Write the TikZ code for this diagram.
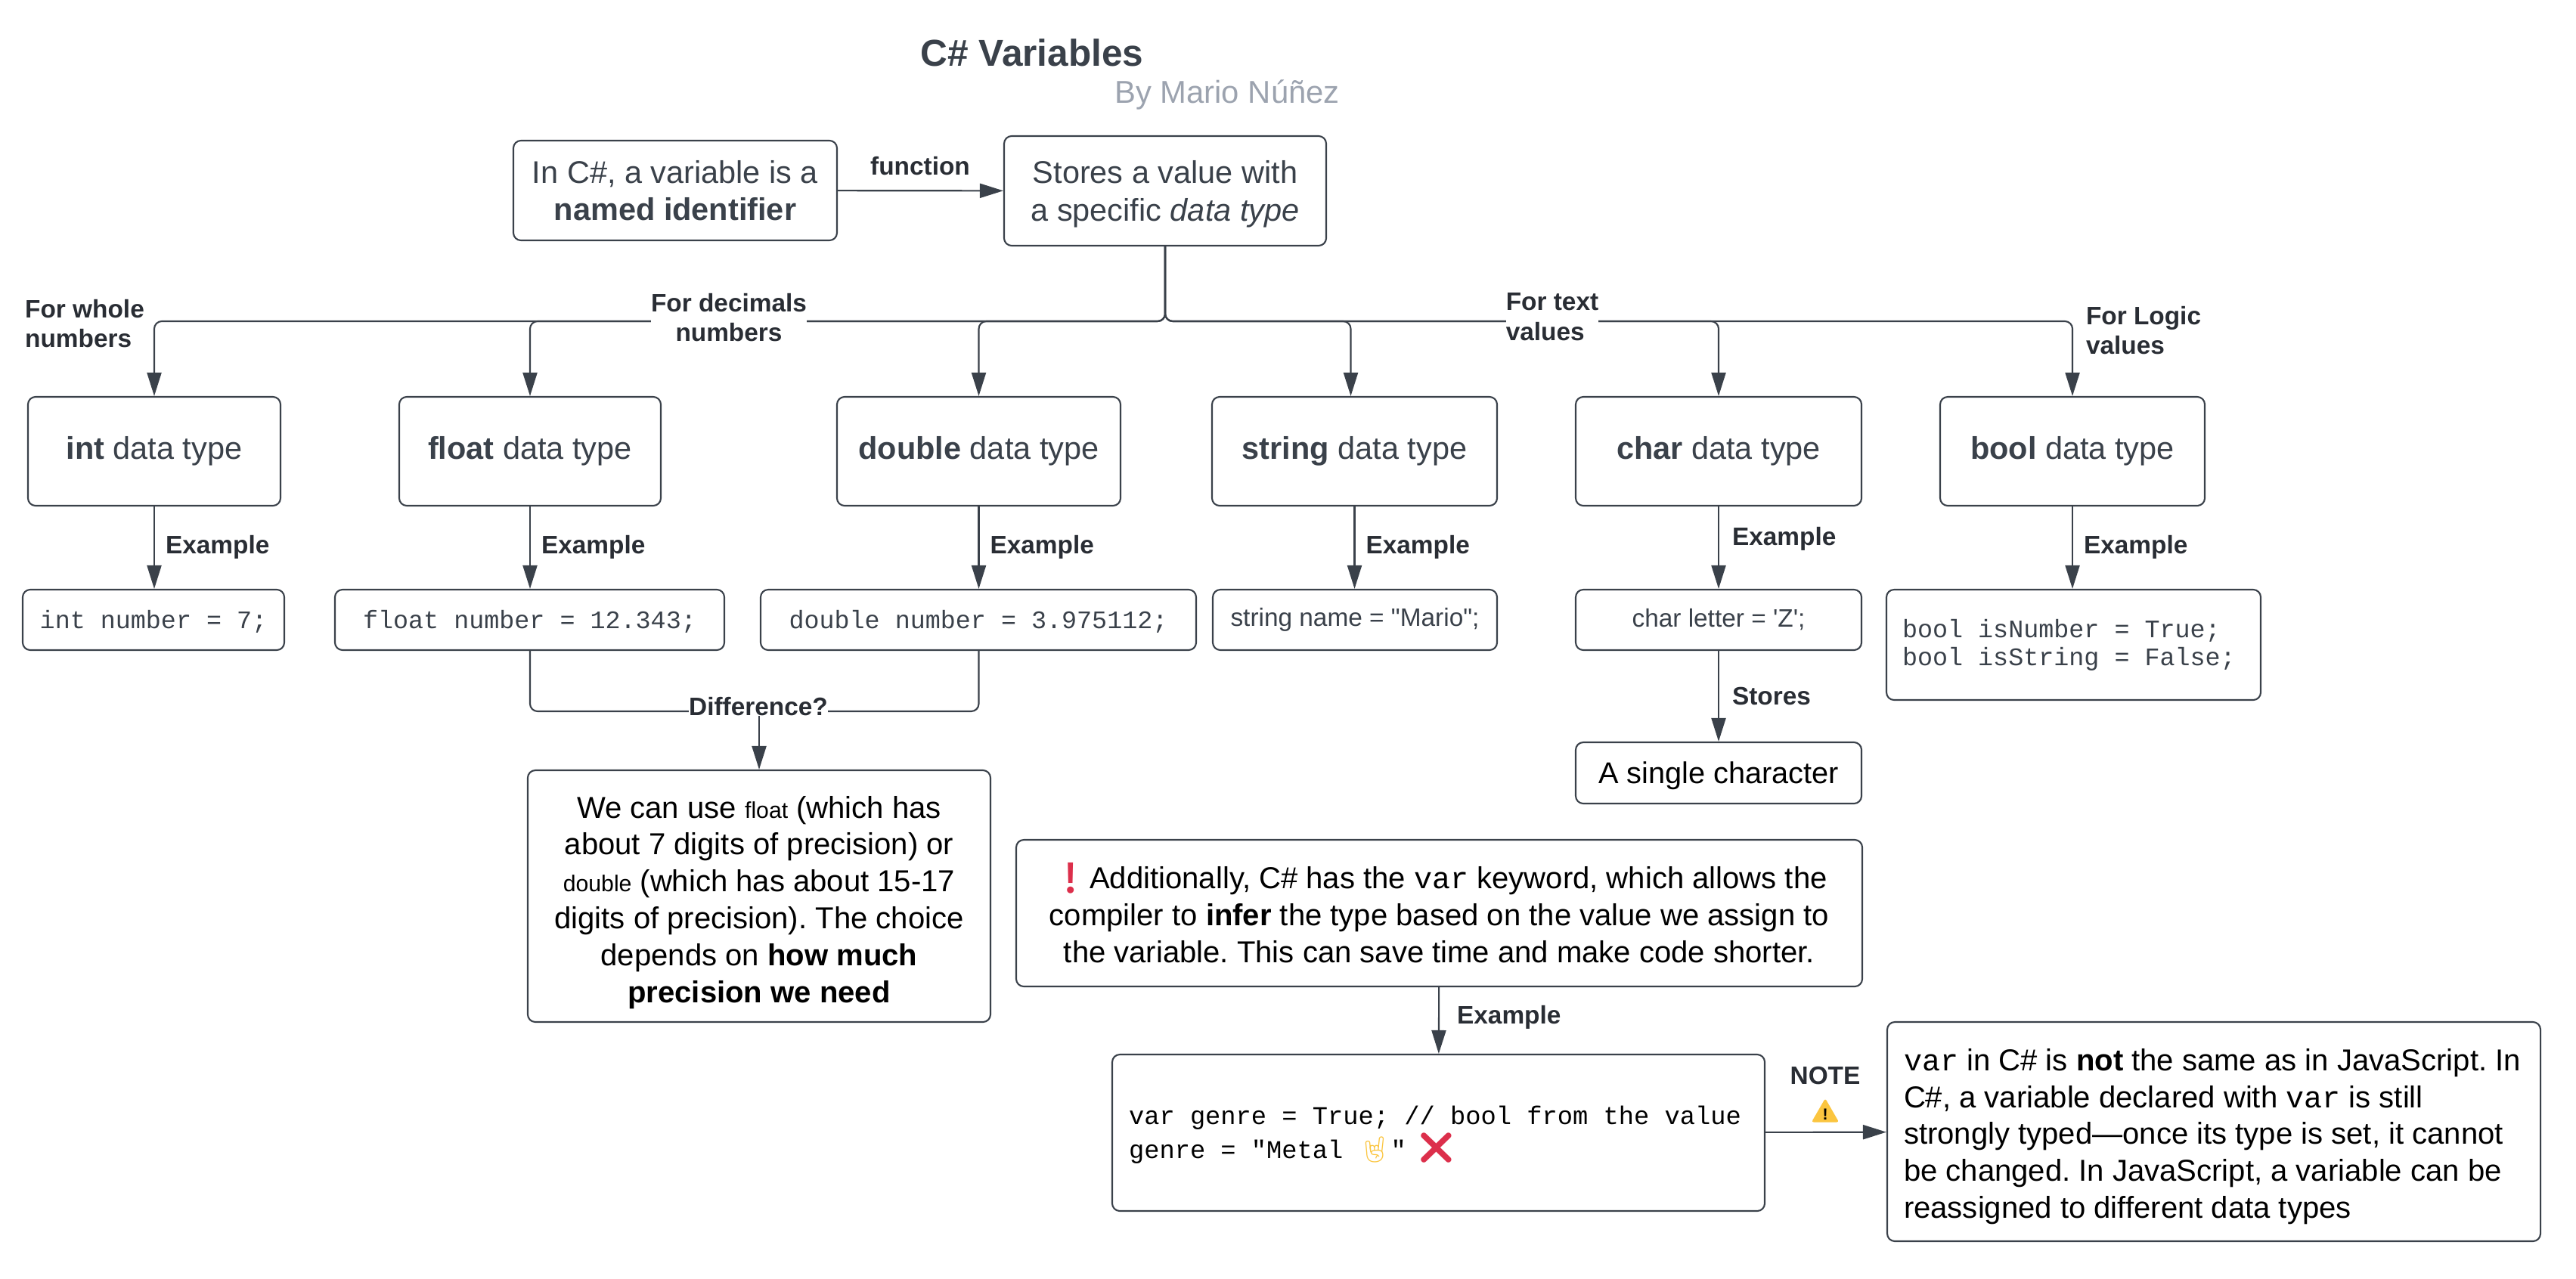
\documentclass[tikz,border=0pt]{standalone}
\usepackage{fontspec}
\setmainfont{Liberation Sans}[Ligatures=TeXOff]
\setmonofont{Liberation Mono}
\newfontfamily\emojifont{Noto Emoji}
\usetikzlibrary{arrows.meta,shapes.geometric}

\definecolor{slate}{HTML}{3A414A}
\definecolor{bylinegray}{HTML}{9CA3AF}
\definecolor{alertred}{HTML}{DC2F4B}
\definecolor{warnyellow}{HTML}{FBC53F}

\tikzset{
	box/.style={draw=slate, line width=0.6pt, rounded corners=0.1cm, fill=white, align=flush center, inner sep=0pt,
		text=slate, font=\fontsize{11.8}{14.1}\selectfont},
	blackbox/.style={box, text=black, font=\fontsize{11.4}{13.9}\selectfont\frenchspacing},
	codebox/.style={box, font=\fontsize{9.5}{10.5}\selectfont\ttfamily},
	linecode/.style={codebox, text height=8.2pt},
	plainbox/.style={box, font=\fontsize{9.5}{11}\selectfont},
	link/.style={draw=slate, line width=0.6pt, rounded corners=0.1cm, -{Triangle[length=0.31cm, width=0.19cm]}},
	tag/.style={font=\fontsize{9.5}{11.3}\selectfont\bfseries, text=slate!70!black, inner sep=0pt, align=flush left},
	warnsign/.style={regular polygon, regular polygon sides=3, fill=warnyellow, rounded corners=0.03cm, inner sep=0pt,
		minimum size=0.42cm, font=\fontsize{6}{6}\selectfont\bfseries, text=black},
}

\begin{document}
\begin{tikzpicture}
	\useasboundingbox (0,0) rectangle (34.07,-16.91);
	\def\typeY{-5.97} % Row of the data types
	\def\sampleY{-8.2} % Row of the samples

	% Title
	\node[font=\fontsize{14.1}{16}\selectfont\bfseries, text=slate, inner sep=0pt] (title) at (13.65,-0.70) {C\# Variables};
	\node[font=\fontsize{11.9}{14}\selectfont, text=bylinegray, inner sep=0pt] (byline) at (16.23,-1.25) {By Mario Núñez};

	% Top boxes
	\node[box, minimum width=4.28cm, minimum height=1.32cm] (identifier) at (8.93,-2.52) {In C\#, a variable is a\\\textbf{named identifier}};
	\node[box, minimum width=4.26cm, minimum height=1.45cm] (stores) at (15.41,-2.525) {\rule{0pt}{11pt}Stores a value with\\a specific \textit{data type}};
	\draw[link] (identifier) -- (stores);
	\node[tag] (function) at (12.17,-2.2) {function};

	% Data types and their samples
	\foreach \nm/\xc/\boxW in {int/2.04/3.34, float/7.01/3.46, double/12.945/3.75, string/17.915/3.77, char/22.73/3.78, bool/27.41/3.50} {
		\node[box, minimum width=\boxW cm, minimum height=1.44cm] (\nm) at (\xc,\typeY) {\textbf{\nm} data type};
	}
	\node[linecode, minimum width=3.46cm, minimum height=0.8cm] (intcode) at (2.03,\sampleY) {int number = 7;};
	\node[linecode, minimum width=5.15cm, minimum height=0.8cm] (floatcode) at (7.005,\sampleY) {float number = 12.343;};
	\node[linecode, minimum width=5.76cm, minimum height=0.8cm] (doublecode) at (12.94,\sampleY) {double number = 3.975112;};
	\node[plainbox, minimum width=3.76cm, minimum height=0.8cm] (stringcode) at (17.92,\sampleY) {string name = "Mario";};
	\node[plainbox, minimum width=3.78cm, minimum height=0.8cm] (charcode) at (22.73,\sampleY) {char letter = 'Z';};
	\node[codebox, text width=4.53cm, inner xsep=0.21cm, minimum height=1.46cm, align=flush left] (boolcode) at (27.425,-8.53) {bool isNumber = True;\\bool isString = False;};
	\node[blackbox, font=\fontsize{11.3}{13}\selectfont, text height=10.5pt, minimum width=3.78cm, minimum height=0.81cm] (single) at (22.73,-10.225) {A single character};

	% Lines from the top box to the data types
	\coordinate (bus) at (15.41,-4.25);
	\foreach \nm in {int, float, double, char, bool} {
		\draw[link] (stores.south) -- (bus) -| (\nm.north);
	}
	\draw[link] (stores.south) -- (bus) -| ([xshift=-0.05cm]string.north);
	\node[tag] (whole) at (1.12,-4.28) {For whole\\numbers};
	\node[tag, fill=white, align=flush center] (decimals) at (9.64,-4.2) {For decimals\\numbers};
	\node[tag, fill=white] (textvalues) at (20.53,-4.19) {For text\\values};
	\node[tag] (logic) at (28.35,-4.37) {For Logic\\values};

	% Samples
	\foreach \nm/\smp in {int/intcode, float/floatcode, double/doublecode, string/stringcode, bool/boolcode} {
		\draw[link] (\nm.south) -- node[tag, right=0.14cm, pos=0.49] {Example} (\nm.south |- \smp.north);
	}
	\draw[link] (char) -- node[tag, right=0.17cm, pos=0.39] {Example} (charcode);
	\draw[link] (charcode) -- node[tag, right=0.17cm, pos=0.5] {Stores} (single);

	% Float against double
	\node[blackbox, minimum width=6.12cm, minimum height=3.33cm] (precision) at (10.04,-11.855)
		{\rule{0pt}{13pt}We can use {\fontsize{8.6}{10}\selectfont float} (which has\\about 7 digits of precision) or\\{\fontsize{8.6}{10}\selectfont double} (which has about 15-17\\digits of precision). The choice\\depends on \textbf{how much}\\\textbf{precision we need}};
	\coordinate (join) at (10.04,-9.41);
	\draw[draw=slate, line width=0.6pt, rounded corners=0.1cm] (7.01,-8.6) |- (join) -| (12.945,-8.6);
	\draw[link] (join) -- (precision);
	\node[tag, fill=white] (difference) at (10.03,-9.35) {Difference?};

	% The var keyword
	\node[blackbox, minimum width=11.19cm, minimum height=1.94cm] (additionally) at (19.035,-12.08)
		{{\color{alertred}\emojifont ❗}Additionally, C\# has the \texttt{var} keyword, which allows the\\compiler to \textbf{infer} the type based on the value we assign to\\the variable. This can save time and make code shorter.};
	\node[box, text width=8.19cm, inner xsep=0.22cm, minimum height=2.07cm, align=flush left, text=black,
		font=\fontsize{9.6}{13}\selectfont\ttfamily] (varcode) at (19.025,-14.985)
		{\rule{0pt}{8.5pt}var genre = True; // bool from the value\\genre = "Metal \smash{\color{warnyellow}\emojifont 🤘}" \hspace{-1.8pt}\smash{\fontsize{11.6}{13}\selectfont\color{alertred}\emojifont ❌}};
	\node[blackbox, text width=8.2cm, inner xsep=0.22cm, minimum height=2.9cm, align=flush left] (note) at (29.28,-14.97)
		{\rule{0pt}{12pt}\texttt{var} in C\# is \textbf{not} the same as in JavaScript. In\\C\#, a variable declared with \texttt{var} is still\\strongly typed—once its type is set, it cannot\\be changed. In JavaScript, a variable can be\\reassigned to different data types};
	\draw[link] (additionally) -- node[tag, right=0.23cm, pos=0.45] {Example} (varcode);
	\draw[link] (varcode) -- (note);
	\node[tag] (notetag) at (24.14,-14.23) {NOTE};
	\node[warnsign] (warn) at (24.14,-14.74) {!};
\end{tikzpicture}
\end{document}
